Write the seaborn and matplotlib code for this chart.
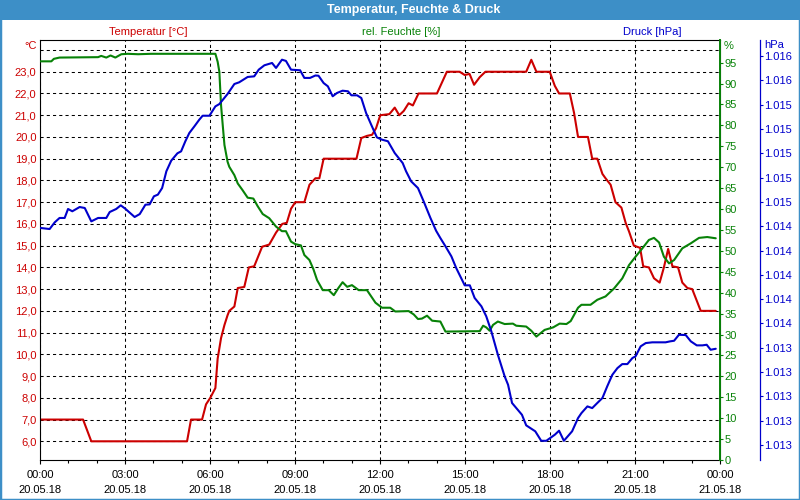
import matplotlib
matplotlib.use("Agg")
import matplotlib.pyplot as plt
import matplotlib.dates as mdates
from matplotlib.patches import Rectangle
import seaborn as sns
import pandas as pd
import numpy as np

# ---------------- data ----------------
title = "Temperatur, Feuchte & Druck"
start_day = "2018-05-20"

temp_hours = [0, 1.52, 1.81, 5.19, 5.33, 5.72, 5.86, 6.01, 6.19, 6.27, 6.39, 6.51, 6.62, 6.68,
              6.86, 6.98, 7.21, 7.37, 7.56, 7.84, 8.09, 8.33, 8.55, 8.71, 8.86, 9.01, 9.33, 9.51,
              9.72, 9.86, 10.01, 11.17, 11.34, 11.54, 11.72, 11.86, 12.01, 12.33, 12.52, 12.68,
              12.84, 13.01, 13.16, 13.36, 14.01, 14.36, 14.81, 14.99, 15.16, 15.32, 15.52, 15.72,
              17.16, 17.34, 17.52, 17.99, 18.17, 18.32, 18.70, 18.85, 18.99, 19.34, 19.49, 19.67,
              19.85, 19.96, 20.14, 20.31, 20.52, 20.67, 20.79, 20.96, 21.18, 21.29, 21.49, 21.67,
              21.87, 22.02, 22.17, 22.32, 22.52, 22.67, 22.85, 23.02, 23.32, 23.85]
temp_values = [7.0, 7.0, 6.0, 6.0, 7.0, 7.0, 7.7, 8.0, 8.45, 9.8, 10.75, 11.35, 11.8, 12.0,
               12.2, 13.05, 13.1, 14.0, 14.05, 14.95, 15.05, 15.6, 16.0, 16.05, 16.7, 17.0, 17.0, 17.8,
               18.1, 18.1, 19.0, 19.0, 19.95, 20.05, 20.1, 20.4, 21.0, 21.05, 21.35, 21.0,
               21.2, 21.55, 21.45, 22.0, 22.0, 23.0, 23.0, 22.85, 22.9, 22.4, 22.75, 23.0,
               23.0, 23.55, 23.0, 23.0, 22.35, 22.0, 22.0, 21.1, 20.0, 20.0, 19.0, 19.0,
               18.3, 18.1, 17.8, 17.0, 16.75, 16.05, 15.65, 15.0, 14.9, 14.05, 14.0, 13.5,
               13.3, 14.0, 14.85, 14.05, 14.0, 13.3, 13.05, 13.0, 12.0, 12.0]

hum_hours = [0, 0.4, 0.49, 0.69, 2.05, 2.16, 2.34, 2.49, 2.66, 2.87, 3.10, 3.46, 3.93, 6.19,
             6.27, 6.33, 6.39, 6.45, 6.51, 6.62, 6.68, 6.86, 6.98, 7.15, 7.33, 7.53, 7.68, 7.86,
             8.09, 8.33, 8.54, 8.68, 8.86, 9.01, 9.21, 9.33, 9.51, 9.65, 9.78, 9.98, 10.19, 10.37,
             10.52, 10.68, 10.84, 11.01, 11.25, 11.54, 11.66, 11.84, 12.07, 12.36, 12.54, 13.01,
             13.19, 13.34, 13.48, 13.66, 13.84, 14.13, 14.31, 15.52, 15.64, 15.75, 15.87, 15.99,
             16.16, 16.40, 16.69, 16.81, 17.16, 17.34, 17.52, 17.81, 18.11, 18.34, 18.58, 18.73,
             18.99, 19.11, 19.43, 19.67, 19.96, 20.26, 20.55, 20.79, 21.02, 21.26, 21.49, 21.67,
             21.85, 22.02, 22.20, 22.38, 22.67, 22.97, 23.26, 23.55, 23.85]
hum_values = [95.3, 95.3, 95.9, 96.2, 96.3, 96.6, 96.2, 96.7, 96.2, 97.0, 97.1, 97.0, 97.1, 97.1,
              95.2, 92.8, 84.8, 80.0, 75.3, 71.3, 70.1, 68.1, 66.1, 64.5, 62.7, 62.5, 60.7, 58.8,
              57.8, 55.8, 54.7, 54.7, 52.2, 51.6, 51.3, 49.0, 47.8, 45.6, 43.0, 40.6, 40.6, 39.4,
              41.0, 42.5, 41.4, 41.8, 40.6, 40.6, 39.4, 37.6, 36.4, 36.4, 35.5, 35.6,
              34.8, 33.7, 33.8, 34.5, 33.3, 33.1, 30.7, 30.8, 32.1, 31.7, 30.9, 32.3,
              33.1, 32.5, 32.6, 32.1, 31.9, 30.9, 29.5, 31.1, 31.7, 32.6, 32.5, 33.2,
              36.4, 37.1, 37.1, 38.3, 39.1, 41.0, 43.4, 46.6, 48.6, 50.6, 52.6, 53.1,
              52.0, 48.6, 47.0, 47.8, 50.6, 51.8, 53.1, 53.3, 53.0]

pres_hours = [0, 0.05, 0.34, 0.52, 0.69, 0.87, 0.99, 1.14, 1.40, 1.58, 1.81, 2.05, 2.34, 2.46,
              2.69, 2.85, 3.01, 3.34, 3.52, 3.72, 3.87, 4.02, 4.16, 4.31, 4.46, 4.63, 4.85, 4.98,
              5.13, 5.27, 5.45, 5.62, 5.74, 5.98, 6.19, 6.33, 6.62, 6.86, 7.03, 7.33, 7.56, 7.72,
              7.92, 8.19, 8.33, 8.54, 8.68, 8.86, 9.18, 9.33, 9.53, 9.72, 9.83, 10.01, 10.16,
              10.33, 10.48, 10.68, 10.87, 10.99, 11.19, 11.34, 11.51, 11.69, 11.89, 12.07, 12.28,
              12.52, 12.80, 12.92, 13.10, 13.34, 13.54, 13.78, 13.98, 14.13, 14.31, 14.52, 14.69,
              14.99, 15.17, 15.34, 15.58, 15.75, 15.93, 16.16, 16.40, 16.52, 16.66, 17.01, 17.16,
              17.48, 17.69, 17.87, 18.17, 18.32, 18.49, 18.78, 18.99, 19.11, 19.32, 19.49, 19.67,
              19.85, 20.02, 20.20, 20.38, 20.55, 20.73, 20.91, 21.02, 21.20, 21.38, 21.61, 22.08,
              22.24, 22.38, 22.55, 22.79, 22.97, 23.18, 23.38, 23.53, 23.67, 23.85]
pres_values = [1014.385, 1014.385, 1014.377, 1014.432, 1014.468, 1014.468, 1014.542, 1014.523,
               1014.558, 1014.550, 1014.440, 1014.468, 1014.468, 1014.517, 1014.542, 1014.572,
               1014.544, 1014.476, 1014.500, 1014.577, 1014.580, 1014.646, 1014.660, 1014.714,
               1014.852, 1014.939, 1015.000, 1015.016, 1015.099, 1015.167, 1015.222, 1015.276,
               1015.309, 1015.309, 1015.386, 1015.405, 1015.488, 1015.570, 1015.584, 1015.628,
               1015.633, 1015.688, 1015.724, 1015.743, 1015.702, 1015.770, 1015.760, 1015.688,
               1015.683, 1015.620, 1015.620, 1015.640, 1015.638, 1015.578, 1015.551, 1015.469,
               1015.496, 1015.515, 1015.510, 1015.477, 1015.477, 1015.455, 1015.331, 1015.235,
               1015.131, 1015.112, 1015.099, 1015.002, 1014.920, 1014.852, 1014.769, 1014.714,
               1014.605, 1014.468, 1014.363, 1014.303, 1014.235, 1014.152, 1014.056, 1013.914,
               1013.914, 1013.810, 1013.741, 1013.659, 1013.535, 1013.343, 1013.165, 1013.096,
               1012.946, 1012.849, 1012.762, 1012.713, 1012.635, 1012.635, 1012.685, 1012.718,
               1012.635, 1012.713, 1012.822, 1012.863, 1012.918, 1012.904, 1012.946, 1012.987,
               1013.083, 1013.178, 1013.233, 1013.266, 1013.266, 1013.316, 1013.330, 1013.412,
               1013.439, 1013.445, 1013.445, 1013.453, 1013.458, 1013.507, 1013.505, 1013.453,
               1013.420, 1013.420, 1013.425, 1013.384, 1013.392]

temp_ticks = list(range(6, 25))
hum_ticks = list(range(0, 100, 5))
pres_ticks = [1012.6 + 0.2 * i for i in range(17)]

header_temp = "Temperatur [°C]"
header_hum = "rel. Feuchte [%]"
header_pres = "Druck [hPa]"

# ---------------- style ----------------
sns.set_style("white")
plt.rcParams["font.family"] = ["Liberation Sans", "DejaVu Sans"]
plt.rcParams["font.size"] = 8

RED = "#cc0000"
GREEN = "#088208"
BLUE = "#0000cc"
BAR = "#3d8fc7"

W, H = 800, 500
def fx(px):
    return px / W
def fy(py):
    return 1 - py / H

t0 = pd.Timestamp(start_day)
def to_time(hours):
    return t0 + pd.to_timedelta(np.asarray(hours, dtype=float), unit="h")

fig = plt.figure(figsize=(8, 5), dpi=100, facecolor="white")

# title bar and border
fig.patches.append(Rectangle((0, fy(20)), 1, 20 / H, transform=fig.transFigure,
                             facecolor=BAR, edgecolor="none", zorder=0))
fig.patches.append(Rectangle((0, 0), 1, 1, transform=fig.transFigure,
                             fill=False, edgecolor=BAR, linewidth=2.5, zorder=5))
fig.text(fx(414), fy(10), title, color="white", fontsize=9, fontweight="bold",
         ha="center", va="center")

fig.text(fx(148), fy(32), header_temp, color=RED, ha="center", va="center")
fig.text(fx(401), fy(32), header_hum, color=GREEN, ha="center", va="center")
fig.text(fx(652), fy(32), header_pres, color=BLUE, ha="center", va="center")

ax = fig.add_axes([fx(40), fy(460), 680 / W, 420 / H])
ax2 = ax.twinx()
ax3 = ax.twinx()

sns.lineplot(x=to_time(temp_hours), y=temp_values, ax=ax, color=RED, linewidth=1.5)
sns.lineplot(x=to_time(hum_hours), y=hum_values, ax=ax2, color=GREEN, linewidth=1.5)
sns.lineplot(x=to_time(pres_hours), y=pres_values, ax=ax3, color=BLUE, linewidth=1.5)

for a in (ax, ax2, ax3):
    a.set_xlabel("")
    a.set_ylabel("")
    a.set_xlim(t0, t0 + pd.Timedelta(hours=24))

# y limits
ax.set_ylim(5.14, 24.46)
ax2.set_ylim(0, 100.4)
ax3.set_ylim(1012.477, 1015.932)

# temperature axis
ax.set_yticks(temp_ticks)
ax.set_yticklabels([f"{v:.1f}".replace(".", ",") if v < 24 else "" for v in temp_ticks])
ax.tick_params(axis="y", length=0, pad=2.5, labelcolor=RED, labelsize=8)

# x axis
ax.xaxis.set_major_locator(mdates.HourLocator(byhour=range(0, 24, 3)))
ax.xaxis.set_minor_locator(mdates.HourLocator())
ax.xaxis.set_major_formatter(mdates.DateFormatter("%H:%M\n%d.%m.%y"))
ax.tick_params(axis="x", which="major", length=2.8, width=0.8, pad=4.5, labelsize=8,
               color="black", labelcolor="black", bottom=True)
ax.tick_params(axis="x", which="minor", length=2.0, width=0.8, bottom=True, color="black")
for lbl in ax.get_xticklabels():
    lbl.set_linespacing(1.55)

ax.grid(True, which="major", color="black", linestyle=(0, (3, 3)), linewidth=0.75)
for s in ("left", "bottom", "top", "right"):
    ax.spines[s].set_visible(True)
    ax.spines[s].set_color("black")
    ax.spines[s].set_linewidth(0.8)
ax.set_facecolor("white")

# humidity axis
ax2.set_yticks(hum_ticks)
ax2.set_yticklabels([str(v) for v in hum_ticks])
ax2.tick_params(axis="y", length=2.0, width=0.8, pad=1.2, color=GREEN, labelcolor=GREEN, labelsize=8)
for s in ("left", "bottom", "top"):
    ax2.spines[s].set_visible(False)
ax2.spines["right"].set_color(GREEN)
ax2.spines["right"].set_linewidth(1.4)
ax2.grid(False)

# pressure axis
ax3.spines["right"].set_position(("outward", 28.8))
ax3.set_yticks(pres_ticks)
ax3.set_yticklabels([f"{round(v):,}".replace(",", ".") for v in pres_ticks])
ax3.tick_params(axis="y", length=2.0, width=0.8, pad=1.2, color=BLUE, labelcolor=BLUE, labelsize=8)
for s in ("left", "bottom", "top"):
    ax3.spines[s].set_visible(False)
ax3.spines["right"].set_color(BLUE)
ax3.spines["right"].set_linewidth(0.9)
ax3.grid(False)

for a in (ax2, ax3):
    a.tick_params(axis="x", which="both", bottom=False, labelbottom=False)

# unit labels at the top of each axis
fig.text(fx(36.5), fy(46), "°C", color=RED, ha="right", va="center")
fig.text(fx(723.5), fy(46), "%", color=GREEN, ha="left", va="center")
fig.text(fx(764.5), fy(45), "hPa", color=BLUE, ha="left", va="center")

fig.savefig("out.png", dpi=100, facecolor="white")
